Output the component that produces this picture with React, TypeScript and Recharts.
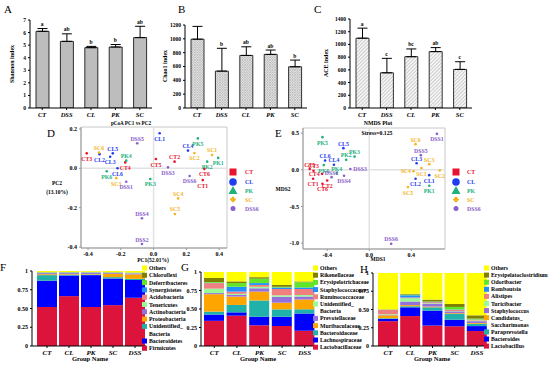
import React from 'react';
import {
  ComposedChart, BarChart, ScatterChart, Bar, Line, Scatter, XAxis, YAxis,
  ErrorBar, ReferenceLine, ReferenceArea,
} from 'recharts';

const FONT = "'Liberation Serif', 'Times New Roman', Times, serif";

// ---------------- A-C : alpha diversity ----------------
const ALPHA_GROUPS = ['CT', 'DSS', 'CL', 'PK', 'SC'];
const SHANNON_MEAN = [6.1, 5.3, 4.8, 4.85, 5.6];
const SHANNON_SD = [0.22, 0.6, 0.1, 0.2, 0.9];
const SHANNON_SIG = ['a', 'ab', 'b', 'b', 'ab'];
const SHANNON_TICKS = [0, 1, 2, 3, 4, 5, 6, 7];
const CHAO1_MEAN = [995, 533, 760, 775, 596];
const CHAO1_SD = [185, 330, 125, 63, 97];
const CHAO1_SIG = ['a', 'b', 'ab', 'ab', 'b'];
const CHAO1_TICKS = [0, 200, 400, 600, 800, 1000, 1200];
const ACE_MEAN = [1098, 554, 807, 887, 607];
const ACE_SD = [158, 227, 122, 63, 121];
const ACE_SIG = ['a', 'c', 'bc', 'ab', 'c'];
const ACE_TICKS = [0, 200, 400, 600, 800, 1000, 1200, 1400];

// ---------------- D / E : ordination ----------------
const GROUP_NAMES = ['CT', 'CL', 'PK', 'SC', 'DSS'];
const LEGEND_LABELS = ['CT', 'CL', 'PK', 'SC', 'DSS6'];
const GROUP_COLORS = ['#E8132F', '#1F3CF0', '#1FB07C', '#F5B31C', '#8A60CA'];

const D_CT = [
  { name: 'CT1', x: 0.30, y: -0.06 }, { name: 'CT2', x: 0.128, y: 0.034 },
  { name: 'CT3', x: -0.408, y: 0.076 }, { name: 'CT4', x: -0.173, y: 0.03 },
  { name: 'CT5', x: 0.014, y: 0.047 }, { name: 'CT6', x: 0.31, y: -0.003 },
];
const D_CL = [
  { name: 'CL1', x: 0.037, y: 0.178 }, { name: 'CL2', x: -0.33, y: 0.072 },
  { name: 'CL3', x: -0.265, y: 0.059 }, { name: 'CL4', x: 0.21, y: 0.09 },
  { name: 'CL5', x: -0.249, y: 0.076 }, { name: 'CL6', x: -0.22, y: 0.0 },
];
const D_PK = [
  { name: 'PK1', x: 0.394, y: 0.053 }, { name: 'PK2', x: 0.327, y: 0.034 },
  { name: 'PK3', x: -0.02, y: -0.054 }, { name: 'PK4', x: -0.167, y: 0.039 },
  { name: 'PK5', x: 0.27, y: 0.152 }, { name: 'PK6', x: -0.286, y: -0.015 },
];
const D_SC = [
  { name: 'SC1', x: 0.357, y: 0.068 }, { name: 'SC2', x: 0.249, y: 0.078 },
  { name: 'SC3', x: -0.228, y: -0.05 }, { name: 'SC4', x: 0.15, y: -0.153 },
  { name: 'SC5', x: 0.13, y: -0.232 }, { name: 'SC6', x: -0.333, y: 0.08 },
];
const D_DSS = [
  { name: 'DSS1', x: -0.167, y: -0.068 }, { name: 'DSS2', x: -0.071, y: -0.385 },
  { name: 'DSS3', x: 0.088, y: 0.005 }, { name: 'DSS4', x: -0.071, y: -0.254 },
  { name: 'DSS5', x: -0.10, y: 0.127 }, { name: 'DSS6', x: 0.22, y: -0.039 },
];
const D_X_TICKS = [-0.4, -0.2, 0, 0.2, 0.4];
const D_Y_TICKS = [-0.4, -0.2, 0, 0.2];

const E_CT = [
  { name: 'CT1', x: -0.534, y: -0.123 }, { name: 'CT2', x: -0.40, y: -0.145 },
  { name: 'CT3', x: -0.53, y: -0.014 }, { name: 'CT4', x: -0.448, y: -0.055 },
  { name: 'CT5', x: -0.566, y: 0.01 }, { name: 'CT6', x: -0.445, y: -0.19 },
];
const E_CL = [
  { name: 'CL1', x: 0.57, y: -0.073 }, { name: 'CL2', x: 0.44, y: -0.123 },
  { name: 'CL3', x: 0.45, y: 0.09 }, { name: 'CL4', x: -0.336, y: 0.068 },
  { name: 'CL5', x: -0.246, y: 0.295 }, { name: 'CL6', x: -0.42, y: 0.127 },
];
const E_PK = [
  { name: 'PK1', x: 0.57, y: -0.218 }, { name: 'PK2', x: -0.22, y: 0.136 },
  { name: 'PK3', x: -0.14, y: 0.18 }, { name: 'PK4', x: -0.31, y: -0.045 },
  { name: 'PK5', x: -0.445, y: 0.445 }, { name: 'PK6', x: -0.432, y: 0.064 },
];
const E_SC = [
  { name: 'SC1', x: 0.496, y: 0.023 }, { name: 'SC2', x: 0.67, y: -0.01 },
  { name: 'SC3', x: 0.57, y: 0.077 }, { name: 'SC4', x: 0.42, y: -0.02 },
  { name: 'SC5', x: 0.368, y: -0.236 }, { name: 'SC6', x: 0.44, y: 0.35 },
];
const E_DSS = [
  { name: 'DSS1', x: 0.643, y: 0.49 }, { name: 'DSS2', x: -0.358, y: -0.1 },
  { name: 'DSS3', x: -0.18, y: 0.01 }, { name: 'DSS4', x: -0.24, y: -0.082 },
  { name: 'DSS5', x: 0.49, y: 0.2 }, { name: 'DSS6', x: 0.208, y: -1.01 },
];
const E_X_TICKS = [-0.4, 0, 0.4];
const E_Y_TICKS = [-1, -0.5, 0, 0.5];

// label placement (style only)
type Place = 'above' | 'below' | 'left' | 'right';
const D_PLACE: Record<string, Place> = {
  DSS5: 'above', SC6: 'above', CL5: 'above', PK4: 'above', CT2: 'above', CL4: 'above',
  SC1: 'above', SC4: 'above', SC5: 'above', DSS4: 'above', DSS2: 'above',
};
const E_PLACE: Record<string, Place> = {
  SC6: 'above', DSS5: 'above', CL3: 'above', SC3: 'above', SC4: 'left', DSS6: 'above',
  CL5: 'above', PK3: 'above', PK2: 'above', CL6: 'above', CL4: 'above', CT5: 'above',
  CT3: 'above', PK4: 'above', DSS3: 'right', CT4: 'left', DSS2: 'above',
};

// ---------------- F-H : relative abundance ----------------
const STACK_GROUPS = ['CT', 'CL', 'PK', 'SC', 'DSS'];
const STACK_TICKS = [0, 0.25, 0.5, 0.75, 1];

const F_TAXA = ['Firmicutes', 'Bacteroidetes', 'Unidentified_Bacteria', 'Proteobacteria', 'Actinobacteria',
  'Tenericutes', 'Acidobacteria', 'Synergistetes', 'Deferribacteres', 'Chloroflexi', 'Others'];
const F_FIRMICUTES = [0.52, 0.665, 0.52, 0.545, 0.643];
const F_BACTEROIDETES = [0.35, 0.275, 0.425, 0.355, 0.237];
const F_UNIDENTIFIED = [0.075, 0.012, 0.008, 0.018, 0.015];
const F_PROTEOBACTERIA = [0.012, 0.01, 0.008, 0.045, 0.06];
const F_ACTINOBACTERIA = [0.015, 0.013, 0.016, 0.01, 0.012];
const F_TENERICUTES = [0.004, 0.003, 0.003, 0.003, 0.003];
const F_ACIDOBACTERIA = [0.002, 0.002, 0.002, 0.002, 0.002];
const F_SYNERGISTETES = [0.002, 0.002, 0.002, 0.002, 0.002];
const F_DEFERRIBACTERES = [0.003, 0.003, 0.003, 0.003, 0.004];
const F_CHLOROFLEXI = [0.002, 0.002, 0.002, 0.002, 0.002];
const F_OTHERS = [0.015, 0.013, 0.011, 0.015, 0.02];
const F_VALUES = [F_FIRMICUTES, F_BACTEROIDETES, F_UNIDENTIFIED, F_PROTEOBACTERIA, F_ACTINOBACTERIA,
  F_TENERICUTES, F_ACIDOBACTERIA, F_SYNERGISTETES, F_DEFERRIBACTERES, F_CHLOROFLEXI, F_OTHERS];

const G_TAXA = ['Lactobacillaceae', 'Lachnospiraceae', 'Bacteroidaceae', 'Muribaculaceae', 'Prevotellaceae',
  'Unidentified_Bacteria', 'Ruminococcaceae', 'Staphylococcaceae', 'Erysipelotrichaceae', 'Rikenellaceae', 'Others'];
const G_LACTOBACILLACEAE = [0.34, 0.41, 0.28, 0.27, 0.205];
const G_LACHNOSPIRACEAE = [0.085, 0.045, 0.115, 0.125, 0.235];
const G_BACTEROIDACEAE = [0.04, 0.10, 0.22, 0.10, 0.055];
const G_MURIBACULACEAE = [0.235, 0.113, 0.12, 0.09, 0.135];
const G_PREVOTELLACEAE = [0.015, 0.022, 0.045, 0.08, 0.038];
const G_UNIDENTIFIED = [0.06, 0.015, 0.02, 0.02, 0.022];
const G_RUMINOCOCCACEAE = [0.075, 0.03, 0.025, 0.085, 0.08];
const G_STAPHYLOCOCCACEAE = [0.005, 0.065, 0.025, 0.02, 0.02];
const G_ERYSIPELOTRICHACEAE = [0.01, 0.05, 0.06, 0.01, 0.07];
const G_RIKENELLACEAE = [0.055, 0.023, 0.02, 0.025, 0.013];
const G_OTHERS = [0.08, 0.127, 0.07, 0.175, 0.127];
const G_VALUES = [G_LACTOBACILLACEAE, G_LACHNOSPIRACEAE, G_BACTEROIDACEAE, G_MURIBACULACEAE, G_PREVOTELLACEAE,
  G_UNIDENTIFIED, G_RUMINOCOCCACEAE, G_STAPHYLOCOCCACEAE, G_ERYSIPELOTRICHACEAE, G_RIKENELLACEAE, G_OTHERS];

const H_TAXA = ['Lactobacillus', 'Bacteroides', 'Paraprevotella', 'Candidatus_Saccharimonas', 'Staphylococcus',
  'Turicibacter', 'Alistipes', 'Romboutsia', 'Odoribacter', 'Erysipelatoclostridium', 'Others'];
const H_LACTOBACILLUS = [0.34, 0.41, 0.28, 0.27, 0.205];
const H_BACTEROIDES = [0.03, 0.12, 0.205, 0.09, 0.068];
const H_PARAPREVOTELLA = [0.01, 0.015, 0.045, 0.08, 0.032];
const H_CANDIDATUS = [0.04, 0.015, 0.01, 0.01, 0.01];
const H_STAPHYLOCOCCUS = [0.005, 0.05, 0.035, 0.025, 0.025];
const H_TURICIBACTER = [0.01, 0.045, 0.01, 0.005, 0.01];
const H_ALISTIPES = [0.06, 0.01, 0.015, 0.015, 0.01];
const H_ROMBOUTSIA = [0.002, 0.03, 0.005, 0.005, 0.003];
const H_ODORIBACTER = [0.002, 0.01, 0.005, 0.035, 0.012];
const H_ERYSIPELATOCLOSTRIDIUM = [0.003, 0.01, 0.025, 0.04, 0.045];
const H_OTHERS = [0.498, 0.285, 0.365, 0.425, 0.58];
const H_VALUES = [H_LACTOBACILLUS, H_BACTEROIDES, H_PARAPREVOTELLA, H_CANDIDATUS, H_STAPHYLOCOCCUS,
  H_TURICIBACTER, H_ALISTIPES, H_ROMBOUTSIA, H_ODORIBACTER, H_ERYSIPELATOCLOSTRIDIUM, H_OTHERS];

const STACK_COLORS = ['#DC143C', '#0000FF', '#20B2AA', '#FFA500', '#9370DB', '#98FB98', '#F08080',
  '#1E90FF', '#5FE62A', '#808000', '#FFFF00'];

// ---------------- components ----------------
const tickTxt = { fontSize: 5.5, fontWeight: 'bold', fill: '#000', fontFamily: FONT } as any;
const catTxt = { fontSize: 6.5, fontWeight: 'bold', fontStyle: 'italic', fill: '#000', fontFamily: FONT } as any;

const sigDot = (p: any) => {
  const { cx, cy, payload, index } = p;
  if (cx == null || cy == null) return <g key={index} />;
  return (
    <text key={index} x={cx} y={cy - 2.5} textAnchor="middle" fill="#000" fontSize={5.5}
      fontWeight="bold" fontFamily={FONT}>{payload.sig}</text>
  );
};

function AlphaPanel(props: any) {
  const { left, mean, sd, sig, yMax, ticks, marginTop, fill } = props;
  const data = ALPHA_GROUPS.map((g, i) => ({ g, mean: mean[i], err: [0, sd[i]], top: mean[i] + sd[i], sig: sig[i] }));
  return (
    <div style={{ position: 'absolute', left, top: 0 }}>
      <ComposedChart width={160} height={125} data={data} margin={{ top: marginTop, right: 8, left: 0, bottom: 0 }}>
        <XAxis dataKey="g" height={17} interval={0} tick={catTxt} tickSize={2}
          axisLine={{ stroke: '#000' }} tickLine={{ stroke: '#000' }} />
        <YAxis width={30} type="number" domain={[0, yMax]} ticks={ticks} allowDataOverflow interval={0}
          tick={tickTxt} tickSize={2} axisLine={{ stroke: '#000' }} tickLine={{ stroke: '#000' }} />
        <Bar dataKey="mean" barSize={13} fill={fill} stroke="#000" strokeWidth={0.8} isAnimationActive={false}>
          <ErrorBar dataKey="err" width={5} stroke="#000" strokeWidth={1} direction="y" />
        </Bar>
        <Line dataKey="top" stroke="none" dot={sigDot} activeDot={false} isAnimationActive={false} />
      </ComposedChart>
    </div>
  );
}

function pointShape(color: string, places: Record<string, Place>) {
  return (p: any) => {
    const { cx, cy, payload } = p;
    const place: Place = places[payload.name] || 'below';
    let tx = cx, ty = cy, anchor = 'middle';
    if (place === 'above') ty = cy - 2.5;
    else if (place === 'below') ty = cy + 7.5;
    else if (place === 'left') { tx = cx - 2.5; ty = cy + 2; anchor = 'end'; }
    else { tx = cx + 3; ty = cy + 2; anchor = 'start'; }
    return (
      <g>
        <circle cx={cx} cy={cy} r={1.3} fill={color} />
        <text x={tx} y={ty} fill={color} fontSize={5.8} fontWeight="bold" fontFamily={FONT} textAnchor={anchor}>
          {payload.name}
        </text>
      </g>
    );
  };
}

function OrdPanel(props: any) {
  const { left, top, width, height, yw, mt, mr, xh, xd, yd, xt, yt, series, places, yFmt } = props;
  return (
    <div style={{ position: 'absolute', left, top }}>
      <ScatterChart width={width} height={height} margin={{ top: mt, right: mr, left: 0, bottom: 0 }}>
        <XAxis type="number" dataKey="x" domain={xd} ticks={xt} allowDataOverflow interval={0} height={xh}
          tick={{ ...tickTxt, fontSize: 6 }} tickSize={2} tickFormatter={(v: number) => v.toFixed(1)}
          axisLine={{ stroke: '#999' }} tickLine={{ stroke: '#999' }} />
        <YAxis type="number" dataKey="y" domain={yd} ticks={yt} allowDataOverflow interval={0} width={yw}
          tick={{ ...tickTxt, fontSize: 6 }} tickSize={2} tickFormatter={yFmt}
          axisLine={{ stroke: '#999' }} tickLine={{ stroke: '#999' }} />
        <ReferenceArea x1={xd[0]} x2={xd[1]} y1={yd[0]} y2={yd[1]} fill="none" stroke="#c8c8c8" strokeWidth={1} ifOverflow="visible" />
        <ReferenceLine x={0} stroke="#e2e2e2" strokeWidth={1.5} />
        <ReferenceLine y={0} stroke="#e2e2e2" strokeWidth={1.5} />
        {series.map((s: any[], i: number) => (
          <Scatter key={GROUP_NAMES[i]} name={GROUP_NAMES[i]} data={s} fill={GROUP_COLORS[i]}
            shape={pointShape(GROUP_COLORS[i], places)} isAnimationActive={false} />
        ))}
      </ScatterChart>
    </div>
  );
}

function StackPanel(props: any) {
  const { left, yw, mt, mr, pad, taxa, values, colors } = props;
  const data = STACK_GROUPS.map((g, gi) => {
    const row: any = { g };
    taxa.forEach((t: string, ti: number) => { row[t] = values[ti][gi]; });
    return row;
  });
  return (
    <div style={{ position: 'absolute', left, top: 262 }}>
      <BarChart width={150} height={105} data={data} margin={{ top: mt, right: mr, left: 0, bottom: 9 }}>
        <XAxis dataKey="g" height={12} interval={0} padding={{ left: pad, right: 0 }}
          tick={{ ...catTxt, fontSize: 7 }} tickSize={2} axisLine={{ stroke: '#000' }} tickLine={{ stroke: '#000' }} />
        <YAxis width={yw} type="number" domain={[0, 1]} ticks={STACK_TICKS} allowDataOverflow interval={0}
          tick={{ ...tickTxt, fontSize: 6 }} tickSize={2}
          tickFormatter={(v: number) => (v === 0 ? '0' : v === 1 ? '1' : v.toFixed(2))}
          axisLine={{ stroke: '#000' }} tickLine={{ stroke: '#000' }} />
        {taxa.map((t: string, i: number) => (
          <Bar key={t} dataKey={t} stackId="s" fill={colors[i]} barSize={20} isAnimationActive={false} />
        ))}
      </BarChart>
    </div>
  );
}

function StackLegend(props: any) {
  const { x, y0, step, taxa, colors } = props;
  const rows: { text: string; color: string | null }[] = [];
  for (let i = taxa.length - 1; i >= 0; i--) {
    const t: string = taxa[i];
    const k = t.indexOf('_');
    if (k >= 0) {
      rows.push({ text: t.slice(0, k + 1), color: colors[i] });
      rows.push({ text: t.slice(k + 1), color: null });
    } else rows.push({ text: t, color: colors[i] });
  }
  return (
    <g>
      {rows.map((r, i) => (
        <g key={i}>
          {r.color && <rect x={x} y={y0 + i * step - 2.5} width={5} height={5} fill={r.color} />}
          <text x={x + 7} y={y0 + i * step + 2} fontSize={5.8} fontWeight="bold" fontFamily={FONT} fill="#000">{r.text}</text>
        </g>
      ))}
    </g>
  );
}

function Marker({ kind, x, y, color }: any) {
  if (kind === 0) return <rect x={x - 3.5} y={y - 3.5} width={7} height={7} fill={color} />;
  if (kind === 1) return <circle cx={x} cy={y} r={3.8} fill={color} />;
  if (kind === 2) return <polygon points={`${x},${y - 4.5} ${x + 4.5},${y + 3.5} ${x - 4.5},${y + 3.5}`} fill={color} />;
  if (kind === 3) return <polygon points={`${x},${y - 3.2} ${x + 3.2},${y} ${x},${y + 3.2} ${x - 3.2},${y}`} fill={color} />;
  return <circle cx={x} cy={y} r={2.5} fill={color} />;
}

function GroupLegend({ mx, tx }: any) {
  const ys = [172, 182, 190.5, 199.5, 208.5];
  return (
    <g>
      {LEGEND_LABELS.map((l, i) => (
        <g key={l}>
          <Marker kind={i} x={mx} y={ys[i]} color={GROUP_COLORS[i]} />
          <text x={tx} y={ys[i] + 2} fontSize={5.8} fontWeight="bold" fontFamily={FONT} fill={GROUP_COLORS[i]}>{l}</text>
        </g>
      ))}
    </g>
  );
}

const B = (p: any) => <text fontFamily={FONT} fontWeight="bold" fill="#000" {...p} />;
const P = (p: any) => <text fontFamily={FONT} fill="#000" fontSize={11} {...p} />;

export default function App() {
  const fmt1 = (v: number) => v.toFixed(1);
  return (
    <div style={{ position: 'absolute', left: 0, top: 0, width: 550, height: 367, background: '#fff', overflow: 'hidden' }}>
      <svg width={0} height={0} style={{ position: 'absolute' }}>
        <defs>
          <pattern id="hatchB" width="2.5" height="2.5" patternUnits="userSpaceOnUse">
            <rect width="2.5" height="2.5" fill="#eeeeee" />
            <path d="M0,0 L2.5,2.5 M2.5,0 L0,2.5" stroke="#9a9a9a" strokeWidth="0.5" />
          </pattern>
          <pattern id="hatchC" width="2.5" height="2.5" patternUnits="userSpaceOnUse" patternTransform="rotate(45)">
            <rect width="2.5" height="2.5" fill="#f4f4f4" />
            <line x1="0" y1="0" x2="0" y2="2.5" stroke="#9a9a9a" strokeWidth="0.8" />
          </pattern>
        </defs>
      </svg>

      <AlphaPanel left={0} mean={SHANNON_MEAN} sd={SHANNON_SD} sig={SHANNON_SIG} yMax={7} ticks={SHANNON_TICKS}
        marginTop={20} fill="#bdbdbd" />
      <AlphaPanel left={155} mean={CHAO1_MEAN} sd={CHAO1_SD} sig={CHAO1_SIG} yMax={1200} ticks={CHAO1_TICKS}
        marginTop={25} fill="url(#hatchB)" />
      <AlphaPanel left={320} mean={ACE_MEAN} sd={ACE_SD} sig={ACE_SIG} yMax={1400} ticks={ACE_TICKS}
        marginTop={19} fill="url(#hatchC)" />

      <OrdPanel left={50} top={120} width={185} height={142} yw={31} mt={7} mr={8} xh={14}
        xd={[-0.443, 0.448]} yd={[-0.405, 0.21]} xt={D_X_TICKS} yt={D_Y_TICKS}
        series={[D_CT, D_CL, D_PK, D_SC, D_DSS]} places={D_PLACE} yFmt={fmt1} />
      <OrdPanel left={275} top={120} width={175} height={143} yw={28} mt={8} mr={5} xh={14}
        xd={[-0.63, 0.72]} yd={[-1.08, 0.57]} xt={E_X_TICKS} yt={E_Y_TICKS}
        series={[E_CT, E_CL, E_PK, E_SC, E_DSS]} places={E_PLACE} yFmt={fmt1} />

      <StackPanel left={0} yw={32} mt={9} mr={4} pad={4} taxa={F_TAXA} values={F_VALUES} colors={STACK_COLORS} />
      <StackPanel left={170} yw={31} mt={10} mr={4} pad={2} taxa={G_TAXA} values={G_VALUES} colors={STACK_COLORS} />
      <StackPanel left={340} yw={33} mt={11} mr={2} pad={4} taxa={H_TAXA} values={H_VALUES} colors={STACK_COLORS} />

      <svg width={550} height={367} style={{ position: 'absolute', left: 0, top: 0, pointerEvents: 'none' }}>
        <P x={4} y={13}>A</P>
        <P x={178} y={13}>B</P>
        <P x={314} y={13}>C</P>
        <P x={47} y={137}>D</P>
        <P x={275} y={137}>E</P>
        <P x={0} y={271}>F</P>
        <P x={181} y={271}>G</P>
        <P x={360} y={273}>H</P>

        <B x={14} y={64} fontSize={6} textAnchor="middle" transform="rotate(-90 14 64)">Shannon index</B>
        <B x={167} y={66} fontSize={6} textAnchor="middle" transform="rotate(-90 167 66)">Chao1 index</B>
        <B x={328} y={63} fontSize={6} textAnchor="middle" transform="rotate(-90 328 63)">ACE index</B>

        <B x={131} y={125} fontSize={5.2} textAnchor="middle">pCoA  PC1 vs PC2</B>
        <B x={57} y={185} fontSize={5.5} textAnchor="middle">PC2</B>
        <B x={57} y={194} fontSize={5.5} textAnchor="middle">(13.10%)</B>
        <B x={153} y={262} fontSize={5.5} textAnchor="middle">PC1(52.01%)</B>
        <GroupLegend mx={233} tx={245} />

        <B x={378} y={125} fontSize={5.8} textAnchor="middle">NMDS Plot</B>
        <B x={377} y={135} fontSize={5.8} textAnchor="middle">Stress=0.125</B>
        <B x={283} y={191} fontSize={5.5} textAnchor="middle">MDS2</B>
        <B x={378} y={261} fontSize={5.5} textAnchor="middle">MDS1</B>
        <GroupLegend mx={456} tx={467} />

        <B x={90} y={361} fontSize={6.5} textAnchor="middle">Group Name</B>
        <B x={258} y={361} fontSize={6.5} textAnchor="middle">Group Name</B>
        <B x={432} y={361} fontSize={6.5} textAnchor="middle">Group Name</B>

        <StackLegend x={142} y0={268} step={7.3} taxa={F_TAXA} colors={STACK_COLORS} />
        <StackLegend x={313} y0={268} step={7.2} taxa={G_TAXA} colors={STACK_COLORS} />
        <StackLegend x={484} y0={268} step={7.1} taxa={H_TAXA} colors={STACK_COLORS} />
      </svg>
    </div>
  );
}
